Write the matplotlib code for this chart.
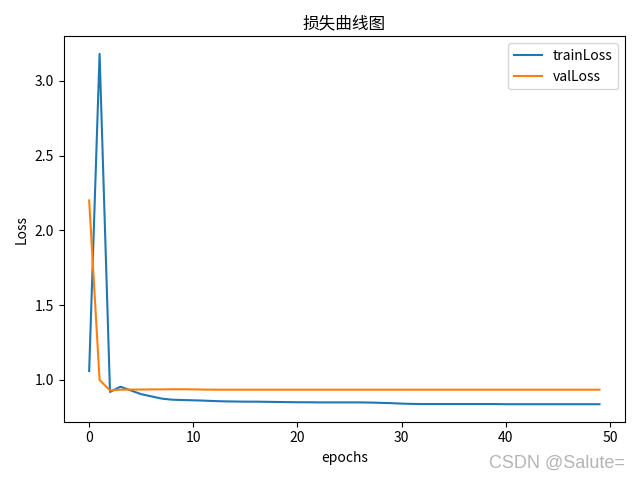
import matplotlib
matplotlib.use("Agg")
import matplotlib.pyplot as plt

plt.rcParams['font.family'] = ['Noto Sans CJK SC', 'DejaVu Sans']
plt.rcParams['axes.unicode_minus'] = False

# loss values
train_loss = [1.06, 3.18, 0.92, 0.955, 0.93, 0.905, 0.89, 0.875, 0.868, 0.866,
              0.864, 0.862, 0.859, 0.857, 0.856, 0.855, 0.855, 0.854, 0.853, 0.852,
              0.851, 0.851, 0.850, 0.850, 0.850, 0.850, 0.850, 0.849, 0.847, 0.845,
              0.842, 0.840, 0.839, 0.839, 0.839, 0.839, 0.839, 0.839, 0.839, 0.839,
              0.838, 0.838, 0.838, 0.838, 0.838, 0.838, 0.838, 0.838, 0.838, 0.838]
val_loss = [2.2, 1.0, 0.93, 0.935, 0.936, 0.936, 0.937, 0.937, 0.938, 0.938,
            0.937, 0.936, 0.935, 0.935, 0.935, 0.935, 0.935, 0.935, 0.935, 0.935,
            0.935, 0.935, 0.935, 0.935, 0.935, 0.935, 0.935, 0.935, 0.935, 0.935,
            0.935, 0.935, 0.935, 0.935, 0.935, 0.935, 0.935, 0.935, 0.935, 0.935,
            0.935, 0.935, 0.935, 0.935, 0.935, 0.935, 0.935, 0.935, 0.935, 0.935]
epochs = list(range(len(train_loss)))

fig = plt.figure(figsize=(6.4, 4.8), dpi=100)
plt.plot(epochs, train_loss, label='trainLoss')
plt.plot(epochs, val_loss, label='valLoss')
plt.title('损失曲线图')
plt.xlabel('epochs')
plt.ylabel('Loss')
plt.legend()
plt.tight_layout()

# watermark of the source site
fig.text(0.977, 0.017, 'CSDN @Salute=', ha='right', va='bottom',
         fontsize=13, color='#b4b4b4', family='Liberation Sans')

plt.savefig('out.png')
